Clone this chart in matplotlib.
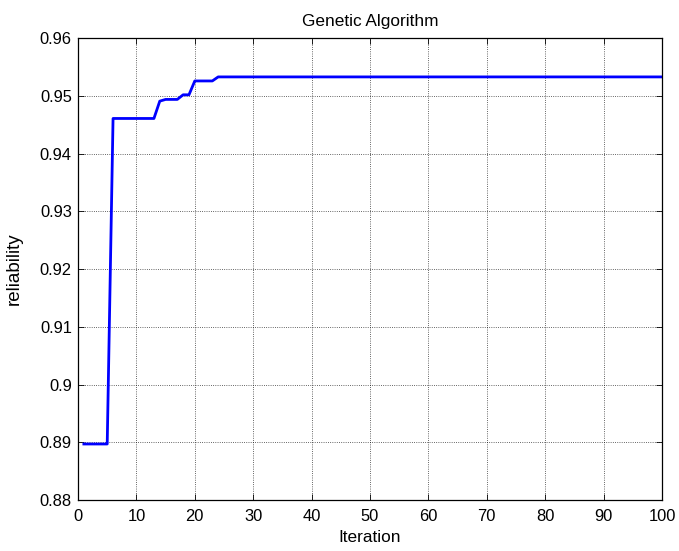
import matplotlib
matplotlib.use("Agg")
import matplotlib.pyplot as plt

plt.rcParams['font.family'] = ['Liberation Sans', 'DejaVu Sans']

# best reliability per iteration (vertices of the step curve)
iteration = [1, 5, 6, 13, 14, 15, 17, 18, 19, 20, 23, 24, 100]
reliability = [0.8897, 0.8897, 0.9461, 0.9461, 0.9491, 0.9494, 0.9494,
               0.9502, 0.9502, 0.9526, 0.9526, 0.9533, 0.9533]

xticks = [0, 10, 20, 30, 40, 50, 60, 70, 80, 90, 100]
yticks = [0.88, 0.89, 0.90, 0.91, 0.92, 0.93, 0.94, 0.95, 0.96]
ytick_labels = ['0.88', '0.89', '0.9', '0.91', '0.92', '0.93', '0.94', '0.95', '0.96']

fig = plt.figure(figsize=(6.79, 5.51), dpi=100)
ax = fig.add_axes([0.1149, 0.0926, 0.860, 0.838])

ax.plot(iteration, reliability, color='#0000ff', linewidth=2.0)

ax.set_xlim(0, 100)
ax.set_ylim(0.88, 0.96)
ax.set_xticks(xticks)
ax.set_yticks(yticks)
ax.set_yticklabels(ytick_labels)
ax.tick_params(direction='in', top=True, right=True, length=4, width=0.6,
               labelsize=11.9)
ax.tick_params(axis='x', pad=6.5)
ax.tick_params(axis='y', pad=4.5)
ax.grid(True, color='black', linestyle=':', linewidth=0.6, alpha=0.8)
for s in ax.spines.values():
    s.set_linewidth(0.9)

ax.set_title('Genetic Algorithm', fontsize=12.4, pad=9)
ax.set_xlabel('Iteration', fontsize=12.4, labelpad=4)
ax.set_ylabel('reliability', fontsize=13.5, labelpad=12)

fig.savefig('out.png', dpi=100)
